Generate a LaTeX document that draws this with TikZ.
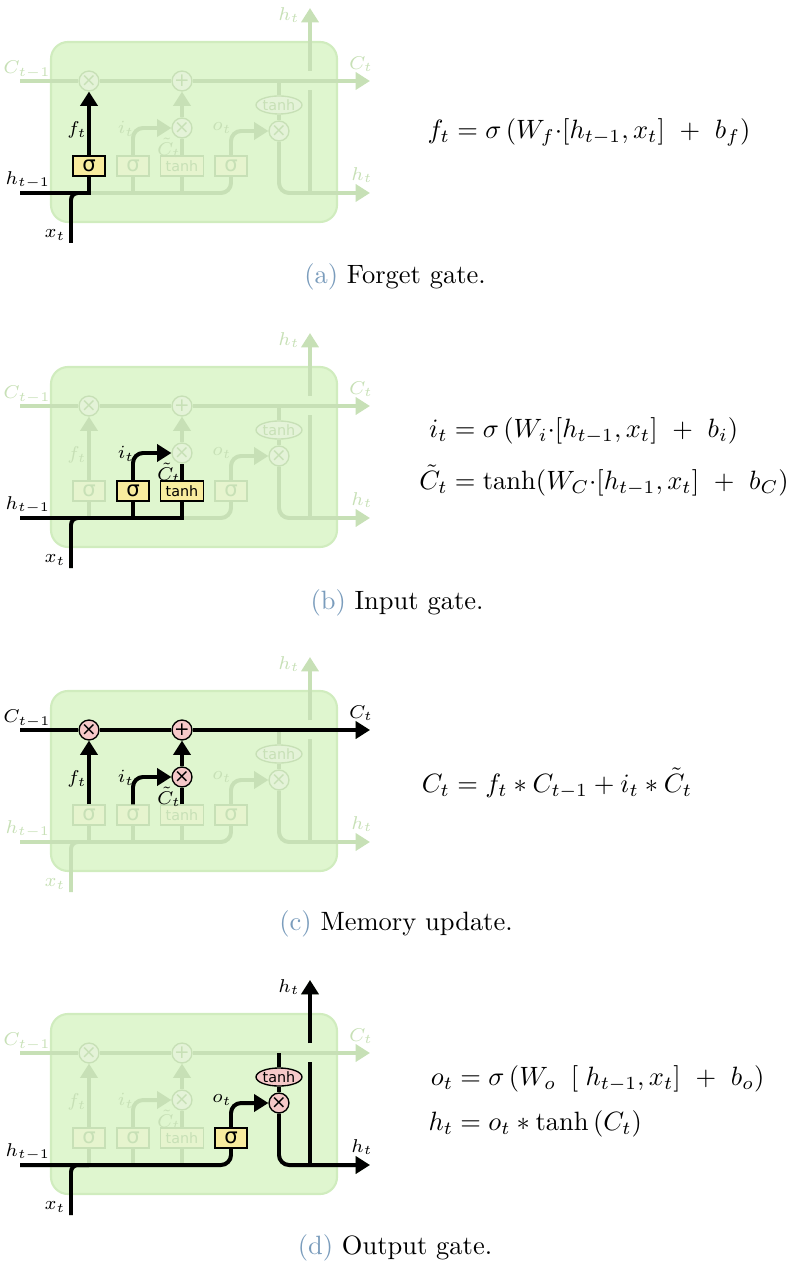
\documentclass[tikz,border=0pt]{standalone}
\usepackage{amsmath, amssymb}
\usepackage{fontspec}
\newfontfamily\gatefont{DejaVu Sans}
\usetikzlibrary{arrows.meta, shapes.geometric}

\definecolor{cellgreen}{RGB}{223,246,207}
\definecolor{celledge}{RGB}{208,236,190}
\definecolor{fadeline}{RGB}{199,224,182}
\definecolor{fadeboxfill}{RGB}{230,244,206}
\definecolor{fadeopfill}{RGB}{228,243,216}
\definecolor{layeryellow}{RGB}{248,236,158}
\definecolor{oppink}{RGB}{246,201,201}
\definecolor{capblue}{RGB}{122,156,188}

\begin{document}
\begin{tikzpicture}[x=0.3774pt, y=-0.3774pt, >={Triangle[length=5.4pt, width=6.4pt]}]
% --- Global Styles ---
\tikzstyle{cellbody} = [fill=cellgreen, draw=celledge, line width=0.8pt, rounded corners=6.4pt]
\tikzstyle{fadewire} = [draw=fadeline, line width=1.5pt]
\tikzstyle{hotwire} = [draw=black, line width=1.5pt]
\tikzstyle{gatebox} = [rectangle, minimum width=12pt, minimum height=7.5pt, inner sep=0pt, line width=0.5pt, font=\gatefont\fontsize{8}{8}\selectfont]
\tikzstyle{tanhbox} = [gatebox, minimum width=16.2pt, font=\gatefont\fontsize{5.4}{6}\selectfont]
\tikzstyle{pwop} = [circle, minimum size=7.5pt, inner sep=0pt, line width=0.5pt, font=\gatefont\fontsize{7}{7}\selectfont]
\tikzstyle{squashop} = [ellipse, minimum width=17pt, minimum height=6.8pt, inner sep=0pt, line width=0.5pt, font=\gatefont\fontsize{5.4}{6}\selectfont]
\tikzstyle{fadebox} = [draw=fadeline, fill=fadeboxfill, text=fadeline]
\tikzstyle{fadeop} = [draw=fadeline, fill=fadeopfill, text=fadeline]
\tikzstyle{hotbox} = [draw=black, fill=layeryellow, text=black]
\tikzstyle{hotop} = [draw=black, fill=oppink, text=black]
\tikzstyle{lbl} = [font=\scriptsize, inner sep=0pt]
\tikzstyle{eqn} = [font=\normalsize, inner sep=0pt]
\tikzstyle{capt} = [font=\normalsize]

\useasboundingbox (0,0) rectangle (787,1262);

% ==========================================
% FADED LSTM CELL (once per panel, \oy = panel offset)
% label colours: C, h_{t-1}, x, h_t, f, i/C~, o
% ==========================================
\foreach \p/\oy/\colC/\colH/\colX/\colY/\colF/\colI/\colO in {
    a/0/fadeline/black/black/fadeline/black/fadeline/fadeline,
    b/325/fadeline/black/black/fadeline/fadeline/black/fadeline,
    c/649/black/fadeline/fadeline/fadeline/black/black/fadeline,
    d/972/fadeline/black/black/black/fadeline/fadeline/black}{
  \draw[cellbody] (51,\oy+42) rectangle (337,\oy+222);

  % end points of the lines
  \coordinate (cin\p) at (20,\oy+81);
  \coordinate (cout\p) at (370,\oy+81);
  \coordinate (hin\p) at (20,\oy+193);
  \coordinate (hout\p) at (370,\oy+193);
  \coordinate (xin\p) at (71,\oy+243);
  \coordinate (ctap\p) at (279,\oy+81);
  \coordinate (hbot\p) at (310,\oy+193);
  \coordinate (hmid\p) at (310,\oy+90);
  \coordinate (hgap\p) at (310,\oy+71);
  \coordinate (htop\p) at (310,\oy+8);

  % pointwise ops and layers
  \node[pwop, fadeop] (mf\p) at (89,\oy+81) {×};
  \node[pwop, fadeop] (add\p) at (182,\oy+81) {+};
  \node[pwop, fadeop] (mi\p) at (182,\oy+128) {×};
  \node[pwop, fadeop] (mo\p) at (279,\oy+131) {×};
  \node[squashop, fadeop] (th\p) at (279,\oy+105) {tanh};
  \node[gatebox, fadebox] (sf\p) at (89,\oy+166) {σ};
  \node[gatebox, fadebox] (si\p) at (133,\oy+166) {σ};
  \node[tanhbox, fadebox] (tc\p) at (182,\oy+166) {tanh};
  \node[gatebox, fadebox] (so\p) at (231,\oy+166) {σ};

  % cell state
  \draw[fadewire] (cin\p) -- (mf\p);
  \draw[fadewire] (mf\p) -- (add\p);
  \draw[fadewire, ->] (add\p) -- (cout\p);

  % hidden state, input and gates
  \draw[fadewire, rounded corners=3.8pt] (hin\p) -| (so\p);
  \draw[fadewire, rounded corners=2.6pt] (xin\p) |- (sf\p |- hin\p);
  \draw[fadewire] (sf\p) -- (sf\p |- hin\p);
  \draw[fadewire] (si\p) -- (si\p |- hin\p);
  \draw[fadewire] (tc\p) -- (tc\p |- hin\p);
  \draw[fadewire, ->] (sf\p) -- (mf\p);
  \draw[fadewire, ->, rounded corners=3.8pt] (si\p) |- (mi\p);
  \draw[fadewire] (tc\p) -- (mi\p);
  \draw[fadewire, ->] (mi\p) -- (add\p);
  \draw[fadewire, ->, rounded corners=3.8pt] (so\p) |- (mo\p);

  % output
  \draw[fadewire] (ctap\p) -- (th\p);
  \draw[fadewire] (th\p) -- (mo\p);
  \draw[fadewire, ->, rounded corners=3.8pt] (mo\p) |- (hout\p);
  \draw[fadewire] (hbot\p) -- (hmid\p);
  \draw[fadewire, ->] (hgap\p) -- (htop\p);

  % labels
  \node[lbl, text=\colC] (lcin\p) at (27,\oy+70) {$C_{t-1}$};
  \node[lbl, text=\colC] (lcout\p) at (361,\oy+64) {$C_t$};
  \node[lbl, text=\colH] (lhin\p) at (28,\oy+180) {$h_{t-1}$};
  \node[lbl, text=\colY] (lhout\p) at (362,\oy+175) {$h_t$};
  \node[lbl, text=\colY] (lhtop\p) at (289,\oy+15) {$h_t$};
  \node[lbl, text=\colX] (lxin\p) at (55,\oy+235) {$x_t$};
  \node[lbl, text=\colF] (lf\p) at (77,\oy+130) {$f_t$};
  \node[lbl, text=\colI] (li\p) at (126,\oy+129) {$i_t$};
  \node[lbl, text=\colI] (lct\p) at (169,\oy+148) {$\tilde{C}_t$};
  \node[lbl, text=\colO] (lo\p) at (222,\oy+128) {$o_t$};
}

% ==========================================
% (a) Forget gate
% ==========================================
\node[gatebox, hotbox] (Hsfa) at (sfa) {σ};
\draw[hotwire] (hina) -| (Hsfa);
\draw[hotwire, rounded corners=2.6pt] (xina) |- (sfa |- hina);
\draw[hotwire, ->] (Hsfa) -- (mfa);

\node[eqn] (eqa) at (589,132) {$f_t = \sigma\left(W_f{\cdot}[h_{t-1}, x_t] \ +\ b_f\right)$};
\node[capt] (capa) at (395,277) {{\color{capblue}(a)} Forget gate.};

% ==========================================
% (b) Input gate
% ==========================================
\node[gatebox, hotbox] (Hsib) at (sib) {σ};
\node[tanhbox, hotbox] (Htcb) at (tcb) {tanh};
\draw[hotwire] (hinb) -| (Htcb);
\draw[hotwire] (Hsib) -- (Hsib |- hinb);
\draw[hotwire, rounded corners=2.6pt] (xinb) |- (sfb |- hinb);
\draw[hotwire, ->, rounded corners=3.8pt] (Hsib) |- (mib);
\draw[hotwire] (Htcb) -- (mib);

\node[eqn] (eqb) at (604,457) {$\begin{aligned}
  i_t &= \sigma\left(W_i{\cdot}[h_{t-1}, x_t] \ +\ b_i\right)\\[3pt]
  \tilde{C}_t &= \tanh(W_C{\cdot}[h_{t-1}, x_t] \ +\ b_C)
\end{aligned}$};
\node[capt] (capb) at (397,603) {{\color{capblue}(b)} Input gate.};

% ==========================================
% (c) Memory update
% ==========================================
\node[pwop, hotop] (Hmfc) at (mfc) {×};
\node[pwop, hotop] (Haddc) at (addc) {+};
\node[pwop, hotop] (Hmic) at (mic) {×};
\draw[hotwire] (cinc) -- (Hmfc);
\draw[hotwire] (Hmfc) -- (Haddc);
\draw[hotwire, ->] (Haddc) -- (coutc);
\draw[hotwire, ->] (sfc) -- (Hmfc);
\draw[hotwire, ->, rounded corners=3.8pt] (sic) |- (Hmic);
\draw[hotwire] (tcc) -- (Hmic);
\draw[hotwire, ->] (Hmic) -- (Haddc);

\node[eqn] (eqc) at (557,783) {$C_t = f_t * C_{t-1} + i_t * \tilde{C}_t$};
\node[capt] (capc) at (396,924) {{\color{capblue}(c)} Memory update.};

% ==========================================
% (d) Output gate
% ==========================================
\node[gatebox, hotbox] (Hsod) at (sod) {σ};
\node[squashop, hotop] (Hthd) at (thd) {tanh};
\node[pwop, hotop] (Hmod) at (mod) {×};
\draw[hotwire, rounded corners=3.8pt] (hind) -| (Hsod);
\draw[hotwire, rounded corners=2.6pt] (xind) |- (sfd |- hind);
\draw[hotwire, ->, rounded corners=3.8pt] (Hsod) |- (Hmod);
\draw[hotwire] (ctapd) -- (Hthd);
\draw[hotwire] (Hthd) -- (Hmod);
\draw[hotwire, ->, rounded corners=3.8pt] (Hmod) |- (houtd);
\draw[hotwire] (hbotd) -- (hmidd);
\draw[hotwire, ->] (hgapd) -- (htopd);

\node[eqn, anchor=west] (eqd) at (428,1102) {$\begin{aligned}
  o_t &= \sigma\left(W_o\;\;[\;h_{t-1}, x_t] \ +\ b_o\right)\\[2pt]
  h_t &= o_t * \tanh\left(C_t\right)
\end{aligned}$};
\node[capt] (capd) at (395,1248) {{\color{capblue}(d)} Output gate.};

\end{tikzpicture}
\end{document}
